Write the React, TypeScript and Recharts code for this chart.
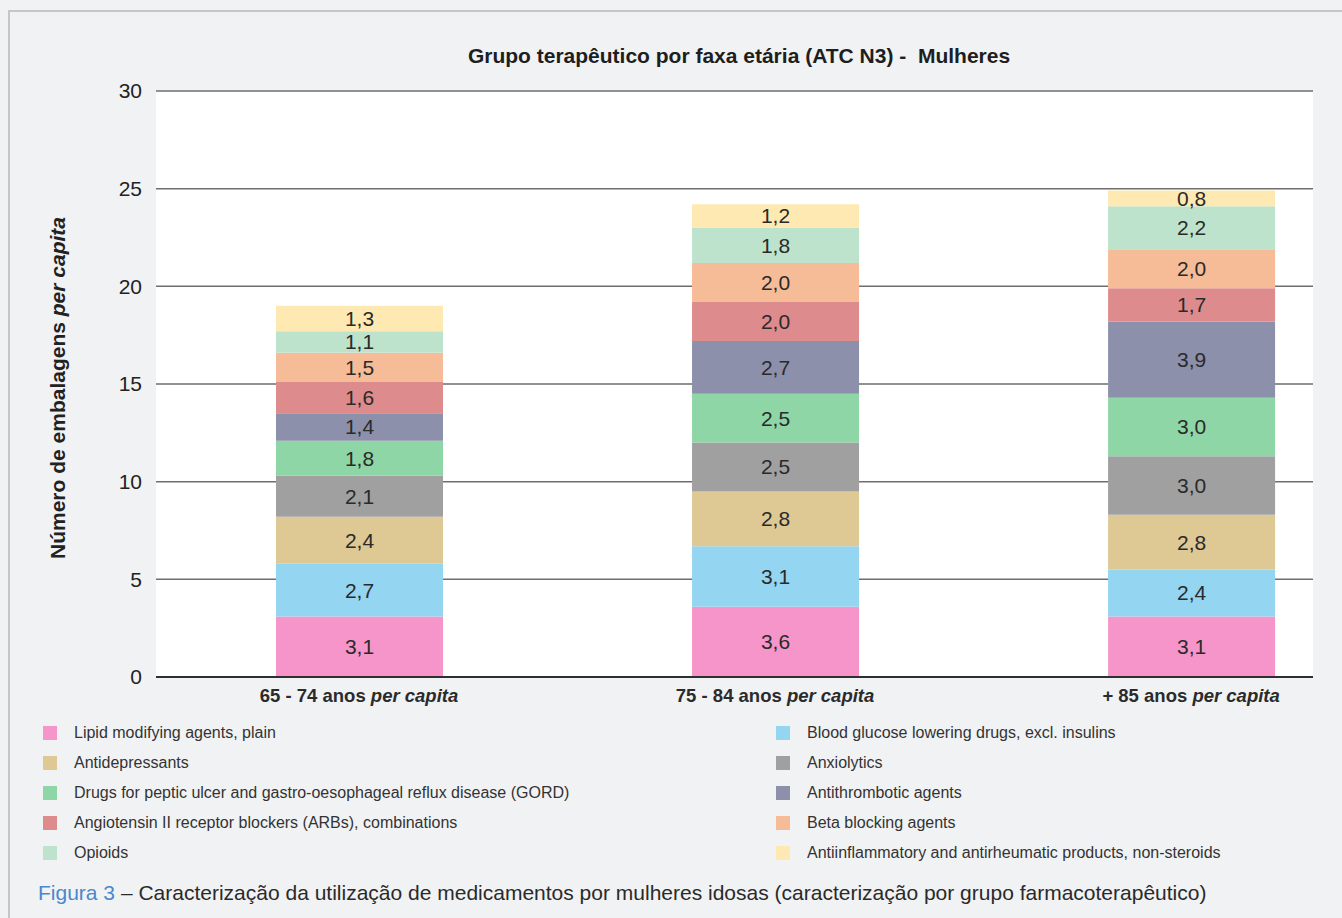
import React from 'react';
import { BarChart, Bar, XAxis, YAxis, CartesianGrid, LabelList } from 'recharts';

const FONT = "'Liberation Sans', Arial, sans-serif";

const categories = ['65 - 74 anos', '75 - 84 anos', '+ 85 anos'];
const yTicks = [0, 5, 10, 15, 20, 25, 30];

const lipid = [3.1, 3.6, 3.1];
const glucose = [2.7, 3.1, 2.4];
const antidepressants = [2.4, 2.8, 2.8];
const anxiolytics = [2.1, 2.5, 3.0];
const gord = [1.8, 2.5, 3.0];
const antithrombotic = [1.4, 2.7, 3.9];
const arbs = [1.6, 2.0, 1.7];
const betaBlockers = [1.5, 2.0, 2.0];
const opioids = [1.1, 1.8, 2.2];
const antiinflammatory = [1.3, 1.2, 0.8];

const series = [
  { key: 'lipid', name: 'Lipid modifying agents, plain', color: '#f595c9', values: lipid },
  { key: 'glucose', name: 'Blood glucose lowering drugs, excl. insulins', color: '#94d5f1', values: glucose },
  { key: 'antidep', name: 'Antidepressants', color: '#dec894', values: antidepressants },
  { key: 'anxio', name: 'Anxiolytics', color: '#a0a0a0', values: anxiolytics },
  { key: 'gord', name: 'Drugs for peptic ulcer and gastro-oesophageal reflux disease (GORD)', color: '#8ed6a5', values: gord },
  { key: 'antithromb', name: 'Antithrombotic agents', color: '#8c90ab', values: antithrombotic },
  { key: 'arbs', name: 'Angiotensin II receptor blockers (ARBs), combinations', color: '#de8b8e', values: arbs },
  { key: 'beta', name: 'Beta blocking agents', color: '#f6bc97', values: betaBlockers },
  { key: 'opioids', name: 'Opioids', color: '#bee3cc', values: opioids },
  { key: 'antiinfl', name: 'Antiinflammatory and antirheumatic products, non-steroids', color: '#fde9b1', values: antiinflammatory },
];

// numeric x position per group so bars sit where the original put them
const data = categories.map((group, i) => {
  const row: Record<string, number | string> = { group, pos: i };
  series.forEach((s) => {
    row[s.key] = s.values[i];
  });
  return row;
});

const fmt = (v: any) => Number(v).toFixed(1).replace('.', ',');

const GroupTick = (props: any) => {
  const { x, y, payload } = props;
  const name = categories[payload.value];
  return (
    <text x={x} y={y + 25} textAnchor="middle" fontFamily={FONT} fontSize={18.5} fill="#2b2b2b">
      <tspan fontWeight="bold">{name} </tspan>
      <tspan fontWeight="bold" fontStyle="italic">per capita</tspan>
    </text>
  );
};

const YLabel = () => (
  <text
    x={57}
    y={388}
    transform="rotate(-90 57 388)"
    textAnchor="middle"
    dominantBaseline="central"
    fontFamily={FONT}
    fontSize={21}
    fontWeight="bold"
    fill="#222"
  >
    <tspan>Número de embalagens </tspan>
    <tspan fontStyle="italic">per capita</tspan>
  </text>
);

export default function App() {
  const legendRows = [0, 1, 2, 3, 4];
  return (
    <div
      style={{
        position: 'absolute',
        left: 0,
        top: 0,
        width: 1342,
        height: 918,
        background: '#f1f2f4',
        overflow: 'hidden',
        fontFamily: FONT,
      }}
    >
      <div
        style={{
          position: 'absolute',
          left: 8,
          top: 10,
          width: 1400,
          height: 1000,
          borderTop: '2px solid #c6c6c6',
          borderLeft: '2px solid #c6c6c6',
        }}
      />
      <div
        style={{
          position: 'absolute',
          left: 239,
          width: 1000,
          top: 44,
          textAlign: 'center',
          fontSize: 21,
          fontWeight: 'bold',
          color: '#1e1e1e',
          whiteSpace: 'pre',
        }}
      >
        {'Grupo terapêutico por faxa etária (ATC N3) -  Mulheres'}
      </div>
      <div style={{ position: 'absolute', left: 0, top: 0 }}>
        <BarChart
          width={1342}
          height={720}
          data={data}
          margin={{ top: 91, right: 29, bottom: 13, left: 60 }}
        >
          <CartesianGrid
            vertical={false}
            stroke="#6e6e6e"
            strokeWidth={1.5}
            fill="#ffffff"
          />
          <XAxis
            dataKey="pos"
            type="number"
            height={30}
            domain={[-0.488, 2.293]}
            ticks={[0, 1, 2]}
            allowDataOverflow
            tickLine={false}
            tickSize={0}
            tickMargin={0}
            axisLine={{ stroke: '#2f2f2f', strokeWidth: 2 }}
            tick={<GroupTick />}
            interval={0}
          />
          <YAxis
            width={96}
            domain={[0, 30]}
            ticks={yTicks}
            interval={0}
            axisLine={false}
            tickLine={false}
            tickMargin={8}
            tick={{ fontFamily: FONT, fontSize: 21, fill: '#222' }}
            label={<YLabel />}
          />
          {series.map((s) => (
            <Bar
              key={s.key}
              dataKey={s.key}
              name={s.name}
              stackId="a"
              fill={s.color}
              barSize={167}
              isAnimationActive={false}
            >
              <LabelList
                dataKey={s.key}
                position="center"
                formatter={fmt}
                fill="#2a2a2a"
                fontSize={21}
                fontFamily={FONT}
              />
            </Bar>
          ))}
        </BarChart>
      </div>
      {legendRows.map((r) =>
        [0, 1].map((c) => {
          const s = series[r * 2 + c];
          return (
            <div
              key={s.key}
              style={{
                position: 'absolute',
                left: c === 0 ? 43 : 776,
                top: 723 + r * 30,
                height: 20,
                display: 'flex',
                alignItems: 'center',
                fontSize: 16,
                color: '#333',
                whiteSpace: 'nowrap',
              }}
            >
              <span
                style={{
                  display: 'inline-block',
                  width: 14,
                  height: 14,
                  background: s.color,
                  marginRight: 17,
                }}
              />
              {s.name}
            </div>
          );
        })
      )}
      <div
        style={{
          position: 'absolute',
          left: 38,
          top: 881,
          fontSize: 21,
          color: '#2a2a2a',
          whiteSpace: 'nowrap',
        }}
      >
        <span style={{ color: '#4a88cf' }}>Figura 3</span> – Caracterização da utilização de medicamentos por
        mulheres idosas (caracterização por grupo farmacoterapêutico)
      </div>
    </div>
  );
}
